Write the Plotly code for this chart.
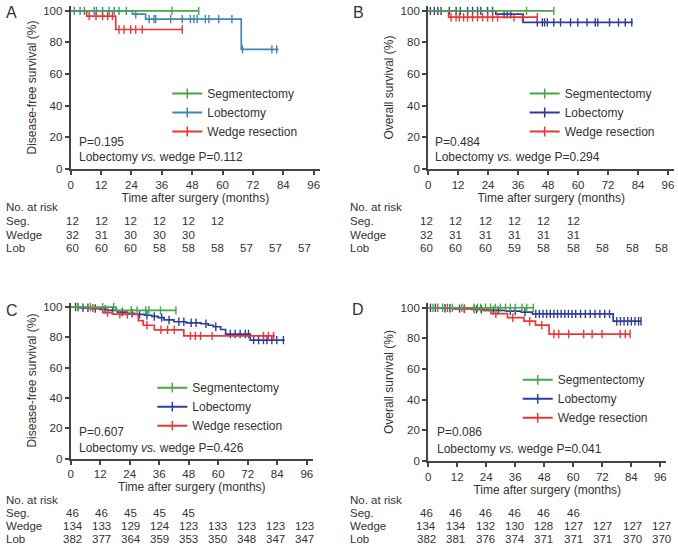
import bisect
import plotly.graph_objects as go

W, H = 678, 550
FONT = "Liberation Sans, Arial, Helvetica, sans-serif"
TXT = "#333333"
AX = "#444444"

GREEN = "#45a845"
BLUE_A = "#3f85b5"
BLUE = "#2e3c9c"
RED = "#ee3535"

x_ticks = [0, 12, 24, 36, 48, 60, 72, 84, 96]
y_ticks = [0, 20, 40, 60, 80, 100]

series_names = ["Segmentectomy", "Lobectomy", "Wedge resection"]
risk_labels = ["No. at risk", "Seg.", "Wedge", "Lob"]

# ---------------- Panel A (disease-free survival) ----------------
a_seg_t = [0]
a_seg_s = [100]
a_seg_end = 50.6
a_seg_c = [40.0, 50.6]

a_lob_t = [0, 24.4, 29.6, 67.4]
a_lob_s = [100, 97.9, 94.8, 75.6]
a_lob_end = 82.1
a_lob_c = [1.4, 3.7, 5.4, 9.3, 10.2, 12.6, 15.2, 17.2, 19.1, 22.0, 25.7,
           31.0, 32.9, 33.6, 39.5, 44.1, 47.3, 48.7, 50.0, 53.2, 54.6, 58.5,
           63.7, 67.9, 79.5, 81.4]

a_wed_t = [0, 6.3, 17.8]
a_wed_s = [100, 96.7, 88.2]
a_wed_end = 44.1
a_wed_c = [7.3, 10.0, 12.6, 14.6, 16.5, 19.1, 21.1, 23.7, 25.7, 28.3, 44.1]

risk_a_seg = [12, 12, 12, 12, 12, 12]
risk_a_wed = [32, 31, 30, 30, 30]
risk_a_lob = [60, 60, 60, 58, 58, 58, 57, 57, 57]

# ---------------- Panel B (overall survival) ----------------
b_seg_t = [0]
b_seg_s = [100]
b_seg_end = 50.3
b_seg_c = [39.4, 50.3]

b_lob_t = [0, 27.1, 38.0]
b_lob_s = [100, 97.9, 92.7]
b_lob_end = 81.9
b_lob_c = [0.9, 2.5, 3.9, 5.2, 8.5, 11.2, 12.9, 15.8, 17.8, 19.8, 21.1, 23.8,
           25.8, 30.4, 31.7, 33.1, 43.7, 45.7, 46.6, 47.7, 50.3, 53.0, 57.0,
           59.9, 63.6, 66.9, 67.9, 72.6, 76.2, 78.9, 81.5]

b_wed_t = [0, 8.2]
b_wed_s = [100, 96.0]
b_wed_end = 43.7
b_wed_c = [9.2, 11.2, 12.5, 14.2, 15.8, 17.8, 19.8, 21.8, 23.8, 25.8, 27.8,
           34.4, 37.7, 43.7]

risk_b_seg = [12, 12, 12, 12, 12, 12]
risk_b_wed = [32, 31, 31, 31, 31, 31]
risk_b_lob = [60, 60, 60, 59, 58, 58, 58, 58, 58]

# ---------------- Panel C (disease-free survival) ----------------
c_seg_t = [0, 18.5]
c_seg_s = [100, 97.8]
c_seg_end = 42.8
c_seg_c = [3.0, 8.0, 13.0, 17.5, 24.6, 27.0, 30.5, 31.8, 36.5, 42.8]

c_lob_t = [0, 3, 8, 12, 15, 19, 23, 26, 30, 33, 35.5, 38, 42, 47, 53, 56,
           58, 61, 63, 73]
c_lob_s = [100, 99.5, 99.0, 98.5, 97.8, 96.7, 95.9, 95.2, 94.6, 93.8, 93.0,
           91.5, 90.3, 89.6, 89.0, 88.0, 87.0, 85.2, 82.2, 78.2]
c_lob_end = 87.0
c_lob_c = [2, 5, 7, 10, 14, 17, 21, 25, 28, 31, 34, 37, 40, 44, 46, 49, 51,
           55, 59, 64.9, 66.9, 68.9, 71.0, 72.3, 74.4, 76.4, 78.4, 79.8, 81.8,
           83.8, 86.5]

c_wed_t = [0, 6, 13, 17, 27.5, 29.5, 34, 46]
c_wed_s = [100, 99.3, 96.3, 95.3, 91.0, 88.0, 85.0, 81.0]
c_wed_end = 83.0
c_wed_c = [3, 9, 15, 20, 23, 31, 36.7, 39.4, 42.1, 48.7, 50.7, 52.8, 57.5,
           78.4, 80.4, 82.5]

risk_c_seg = [46, 46, 45, 45, 45]
risk_c_wed = [134, 133, 129, 124, 123, 133, 123, 123, 123]
risk_c_lob = [382, 377, 364, 359, 353, 350, 348, 347, 347]

# ---------------- Panel D (overall survival) ----------------
d_seg_t = [0]
d_seg_s = [100]
d_seg_end = 43.5
d_seg_c = [2, 6, 10, 14, 19, 20.4, 21.7, 23.7, 25.8, 27.8, 29.9, 32, 34, 36,
           38.8, 40.8, 43.5]

d_lob_t = [0, 5, 11, 18, 25, 32, 38.5, 43.1, 76.5]
d_lob_s = [100, 99.7, 99.4, 98.9, 98.3, 97.8, 97.2, 96.0, 91.2]
d_lob_end = 88.0
d_lob_c = [1, 3, 7, 9, 13, 15, 20, 22, 27, 29, 34, 36, 40, 44.5, 46, 47.5,
           49, 50.5, 52, 53.5, 55, 56.5, 58, 59.5, 61, 63, 65, 67, 69, 71, 73,
           75, 78, 79.5, 81, 82.5, 84, 85.5, 87, 88]

d_wed_t = [0, 10, 22, 26, 32.8, 39.6, 44.4, 50]
d_wed_s = [100, 99.2, 98.3, 96.1, 93.5, 91.2, 88.6, 82.8]
d_wed_end = 83.5
d_wed_c = [4, 8, 15, 19, 28, 35, 42, 47, 52, 54, 58.1, 64.3, 67.8, 71.9,
           79.4, 81.5, 83.5]

risk_d_seg = [46, 46, 46, 46, 46, 46]
risk_d_wed = [134, 134, 132, 130, 128, 127, 127, 127, 127]
risk_d_lob = [382, 381, 376, 374, 371, 371, 371, 370, 370]

panel_letters = ["A", "B", "C", "D"]
y_titles = ["Disease-free survival (%)", "Overall survival (%)",
            "Disease-free survival (%)", "Overall survival (%)"]
p_overall = ["P=0.195", "P=0.484", "P=0.607", "P=0.086"]
p_lob_wedge = ["0.112", "0.294", "0.426", "0.041"]

# ---------------- geometry (pixels) ----------------
XMAX, YMAX = 98.5, 103
geo = [
    dict(x0=68, xs=2.542, y0=170, ys=1.6, letter=(9, 12), p=(74, 143, 158),
         leg=(165, 79), tab_lx=1, tab_c0=70, tab_dc=29.15, tab_rows=[209, 223, 237, 250]),
    dict(x0=427, xs=2.51, y0=170, ys=1.6, letter=(357, 12), p=(432, 143, 158),
         leg=(524, 79), tab_lx=347, tab_c0=425, tab_dc=29.6, tab_rows=[209, 223, 237, 250]),
    dict(x0=68, xs=2.47, y0=463.5, ys=1.535, letter=(9, 313), p=(74, 437, 453),
         leg=(150, 377), tab_lx=1, tab_c0=70, tab_dc=29.15, tab_rows=[505, 519, 532, 545]),
    dict(x0=427, xs=2.43, y0=465.7, ys=1.55, letter=(357, 312), p=(434, 437, 454),
         leg=(517, 369), tab_lx=347, tab_c0=425, tab_dc=29.6, tab_rows=[505, 519, 532, 545]),
]


def px(x):
    return x / W


def py(y):
    return 1 - y / H


def km_xy(t, s, end):
    return list(t) + [end], list(s) + [s[-1]]


def cens_y(t, s, cens):
    return [s[bisect.bisect_right(t, c) - 1] for c in cens]


panels = [
    ([(a_seg_t, a_seg_s, a_seg_end, a_seg_c, GREEN),
      (a_lob_t, a_lob_s, a_lob_end, a_lob_c, BLUE_A),
      (a_wed_t, a_wed_s, a_wed_end, a_wed_c, RED)],
     [risk_a_seg, risk_a_wed, risk_a_lob]),
    ([(b_seg_t, b_seg_s, b_seg_end, b_seg_c, GREEN),
      (b_lob_t, b_lob_s, b_lob_end, b_lob_c, BLUE),
      (b_wed_t, b_wed_s, b_wed_end, b_wed_c, RED)],
     [risk_b_seg, risk_b_wed, risk_b_lob]),
    ([(c_seg_t, c_seg_s, c_seg_end, c_seg_c, GREEN),
      (c_lob_t, c_lob_s, c_lob_end, c_lob_c, BLUE),
      (c_wed_t, c_wed_s, c_wed_end, c_wed_c, RED)],
     [risk_c_seg, risk_c_wed, risk_c_lob]),
    ([(d_seg_t, d_seg_s, d_seg_end, d_seg_c, GREEN),
      (d_lob_t, d_lob_s, d_lob_end, d_lob_c, BLUE),
      (d_wed_t, d_wed_s, d_wed_end, d_wed_c, RED)],
     [risk_d_seg, risk_d_wed, risk_d_lob]),
]

fig = go.Figure()
annotations = []
layout = {}

for i, (curves, risks) in enumerate(panels):
    g = geo[i]
    sfx = "" if i == 0 else str(i + 1)
    xa, ya = "x" + sfx, "y" + sfx
    leg = "legend" + sfx
    order = [1, 2, 0]
    for j in order:
        t, s, end, cens, col = curves[j]
        xs, ys = km_xy(t, s, end)
        fig.add_trace(go.Scatter(
            x=xs, y=ys, mode="lines", line=dict(color=col, width=1.7, shape="hv"),
            xaxis=xa, yaxis=ya, showlegend=False, hoverinfo="skip"))
        fig.add_trace(go.Scatter(
            x=cens, y=cens_y(t, s, cens), mode="markers",
            marker=dict(symbol="line-ns", size=6, line=dict(width=1.4, color=col)),
            xaxis=xa, yaxis=ya, showlegend=False, hoverinfo="skip"))
    for j in range(3):
        col = curves[j][4]
        fig.add_trace(go.Scatter(
            x=[None], y=[None], mode="lines+markers", name=series_names[j],
            line=dict(color=col, width=2),
            marker=dict(symbol="line-ns", size=7, line=dict(width=1.5, color=col)),
            xaxis=xa, yaxis=ya, legend=leg))

    x1 = g["x0"] + XMAX * g["xs"]
    ytop = g["y0"] - YMAX * g["ys"]
    axis_common = dict(showline=True, linewidth=2, linecolor=AX, ticks="outside",
                       ticklen=4, tickwidth=1.5, tickcolor=AX, showgrid=False,
                       zeroline=False, tickfont=dict(size=11.5, color=TXT, family=FONT))
    layout["xaxis" + sfx] = dict(
        axis_common, domain=[px(g["x0"]), px(x1)], range=[0, XMAX],
        tickvals=x_ticks, anchor=ya,
        title=dict(text="Time after surgery (months)", standoff=1,
                   font=dict(size=12, color=TXT, family=FONT)))
    layout["yaxis" + sfx] = dict(
        axis_common, domain=[py(g["y0"]), py(ytop)], range=[0, YMAX],
        tickvals=y_ticks, anchor=xa,
        title=dict(text=y_titles[i], standoff=4,
                   font=dict(size=12, color=TXT, family=FONT)))
    layout[leg] = dict(
        x=px(g["leg"][0]), y=py(g["leg"][1]), xanchor="left", yanchor="top",
        bgcolor="rgba(0,0,0,0)", font=dict(size=12, color=TXT, family=FONT),
        tracegroupgap=0, itemwidth=30)

    lx, ly = g["letter"]
    annotations.append(dict(text=panel_letters[i], x=px(lx), y=py(ly), xref="paper",
                            yref="paper", showarrow=False, xanchor="center",
                            yanchor="middle", font=dict(size=16, color=TXT, family=FONT)))
    ppx, py1, py2 = g["p"]
    annotations.append(dict(text=p_overall[i], x=px(ppx), y=py(py1), xref="paper",
                            yref="paper", showarrow=False, xanchor="left",
                            yanchor="middle", font=dict(size=12, color=TXT, family=FONT)))
    annotations.append(dict(text="Lobectomy <i>vs.</i> wedge P=" + p_lob_wedge[i],
                            x=px(ppx), y=py(py2), xref="paper", yref="paper",
                            showarrow=False, xanchor="left", yanchor="middle",
                            font=dict(size=12, color=TXT, family=FONT)))
    for r, lab in enumerate(risk_labels):
        annotations.append(dict(text=lab, x=px(g["tab_lx"]), y=py(g["tab_rows"][r]),
                                xref="paper", yref="paper", showarrow=False,
                                xanchor="left", yanchor="middle",
                                font=dict(size=11.5, color=TXT, family=FONT)))
    for r, vals in enumerate(risks):
        for k, v in enumerate(vals):
            annotations.append(dict(text=str(v), x=px(g["tab_c0"] + k * g["tab_dc"]),
                                    y=py(g["tab_rows"][r + 1]), xref="paper",
                                    yref="paper", showarrow=False, xanchor="center",
                                    yanchor="middle",
                                    font=dict(size=11.5, color=TXT, family=FONT)))

fig.update_layout(
    width=W, height=H, margin=dict(l=0, r=0, t=0, b=0),
    paper_bgcolor="white", plot_bgcolor="white",
    font=dict(family=FONT, color=TXT), annotations=annotations, **layout)

fig.write_html("out.html", config={"displayModeBar": False},
               post_script="document.body.style.margin='0';document.body.style.overflow='hidden';")
